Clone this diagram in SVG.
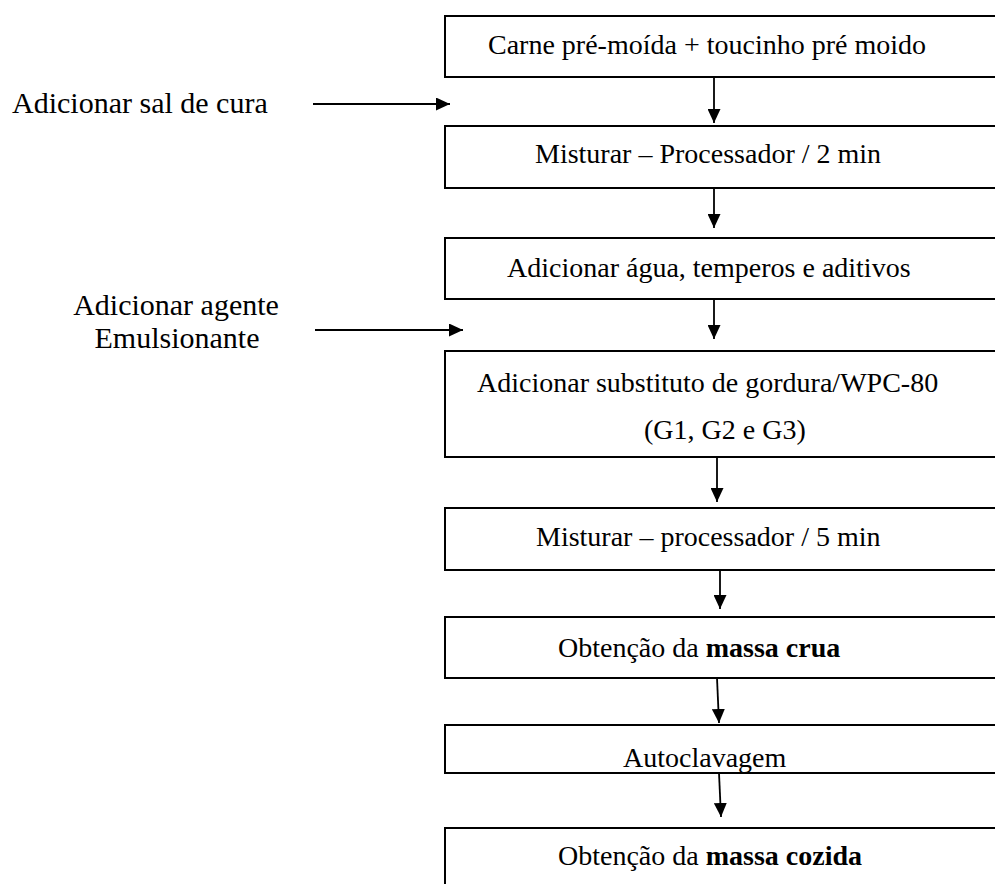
<svg xmlns="http://www.w3.org/2000/svg" width="995" height="884" viewBox="0 0 995 884">
<defs>
<style>
.box{fill:#fff;stroke:#000;stroke-width:2}
.t{font-family:"Liberation Serif","Times New Roman",serif;font-size:28px;fill:#000}
.l{font-family:"Liberation Serif","Times New Roman",serif;font-size:30px;fill:#000}
.b{font-weight:bold}
.c{stroke:#000;stroke-width:1.8;fill:none;marker-end:url(#ah)}
</style>
<marker id="ah" viewBox="0 0 14 13" refX="14" refY="6.5" markerWidth="14" markerHeight="13" markerUnits="userSpaceOnUse" orient="auto">
<path d="M0,0 L14,6.5 L0,13 z" fill="#000"/>
</marker>
<clipPath id="clip7"><rect x="446" y="726" width="560" height="46"/></clipPath>
</defs>
<rect width="995" height="884" fill="#fff"/>
<g id="n1"><rect class="box" x="445" y="16" width="560" height="61"/><text class="t" x="488" y="54">Carne pré-moída + toucinho pré moido</text></g>
<g id="n2"><rect class="box" x="445" y="126" width="560" height="62"/><text class="t" x="535" y="163">Misturar – Processador / 2 min</text></g>
<g id="n3"><rect class="box" x="445" y="238" width="560" height="61"/><text class="t" x="507" y="277">Adicionar água, temperos e aditivos</text></g>
<g id="n4"><rect class="box" x="445" y="351" width="560" height="106"/><text class="t" x="477" y="392">Adicionar substituto de gordura/WPC-80</text><text class="t" x="644" y="439">(G1, G2 e G3)</text></g>
<g id="n5"><rect class="box" x="445" y="508" width="560" height="62"/><text class="t" x="536" y="546">Misturar – processador / 5 min</text></g>
<g id="n6"><rect class="box" x="445" y="617" width="560" height="61"/><text class="t" x="558" y="657">Obtenção da <tspan class="b">massa crua</tspan></text></g>
<g id="n7"><rect class="box" x="445" y="725" width="560" height="48"/><text class="t" x="623" y="767" clip-path="url(#clip7)">Autoclavagem</text></g>
<g id="n8"><rect class="box" x="445" y="828" width="560" height="80"/><text class="t" x="558" y="865">Obtenção da <tspan class="b">massa cozida</tspan></text></g>
<g id="lab1"><text class="l" x="12" y="113">Adicionar sal de cura</text></g>
<g id="lab2"><text class="l" x="176" y="315" text-anchor="middle">Adicionar agente</text><text class="l" x="177" y="348" text-anchor="middle">Emulsionante</text></g>
<g id="connectors">
<line class="c" x1="714" y1="77" x2="714" y2="123"/>
<line class="c" x1="714" y1="188" x2="714" y2="228"/>
<line class="c" x1="714" y1="299" x2="714" y2="339"/>
<line class="c" x1="717" y1="457" x2="717" y2="502"/>
<line class="c" x1="720" y1="570" x2="720" y2="609"/>
<line class="c" x1="717" y1="678" x2="719" y2="723"/>
<line class="c" x1="719" y1="773" x2="721" y2="817"/>
<line class="c" x1="313" y1="104" x2="450" y2="104"/>
<line class="c" x1="315" y1="330" x2="463" y2="330"/>
</g>
</svg>
